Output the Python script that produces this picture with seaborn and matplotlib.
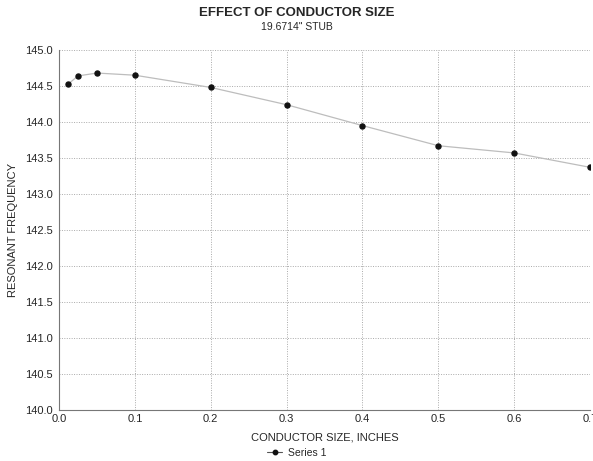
import matplotlib
matplotlib.use("Agg")
import matplotlib.pyplot as plt
import seaborn as sns
import pandas as pd
from matplotlib.lines import Line2D

size_in = [0.0125, 0.025, 0.05, 0.1, 0.2, 0.3, 0.4, 0.5, 0.6, 0.7]
freq = [144.53, 144.64, 144.68, 144.65, 144.48, 144.24, 143.95, 143.67, 143.57, 143.37]
x_ticks = [0.0, 0.1, 0.2, 0.3, 0.4, 0.5, 0.6, 0.7]
y_ticks = [140.0, 140.5, 141.0, 141.5, 142.0, 142.5, 143.0, 143.5, 144.0, 144.5, 145.0]

sns.set_style("white")
plt.rcParams['font.family'] = ['Liberation Sans', 'DejaVu Sans']

df = pd.DataFrame({"x": size_in, "y": freq})

fig = plt.figure(figsize=(5.93, 4.61), dpi=100)
ax = fig.add_axes([0.0995, 0.111, 0.8955, 0.7805])

sns.lineplot(data=df, x="x", y="y", ax=ax, color="#bdbdbd", linewidth=0.9,
             legend=False)
ax.plot(size_in, freq, linestyle="none", marker="o", markersize=3.6,
        color="#111111")

ax.set_xlim(0, 0.7)
ax.set_ylim(140, 145)
ax.set_xticks(x_ticks)
ax.set_yticks(y_ticks)
ax.set_xticklabels([f"{v:.1f}" for v in x_ticks], fontsize=8)
ax.set_yticklabels([f"{v:.1f}" for v in y_ticks], fontsize=8)
ax.grid(True, linestyle=(0, (1, 1.5)), color="#aaaaaa", linewidth=0.7)
for s in ["top", "right"]:
    ax.spines[s].set_visible(False)
for s in ["left", "bottom"]:
    ax.spines[s].set_color("#777777")
    ax.spines[s].set_linewidth(0.8)
ax.tick_params(axis="both", length=3, width=0.8, color="#777777", pad=1.5)
ax.tick_params(axis="x", length=0, pad=3)

ax.set_xlabel("CONDUCTOR SIZE, INCHES", fontsize=8, labelpad=6)
ax.set_ylabel("RESONANT FREQUENCY", fontsize=8, labelpad=5)

fig.text(0.5, 0.972, "EFFECT OF CONDUCTOR SIZE", ha="center", va="center",
         fontsize=9.5, fontweight="bold")
fig.text(0.5, 0.941, '19.6714" STUB', ha="center", va="center", fontsize=7.5)

h = Line2D([], [], color="#555555", linewidth=0.8, marker="o", markersize=3.2,
           markerfacecolor="#111111", markeredgecolor="#111111")
fig.legend([h], ["Series 1"], loc="center", bbox_to_anchor=(0.5, 0.018),
           frameon=False, fontsize=7.5, handlelength=1.5, handletextpad=0.5)

fig.savefig("out.png", dpi=100, facecolor="white")
